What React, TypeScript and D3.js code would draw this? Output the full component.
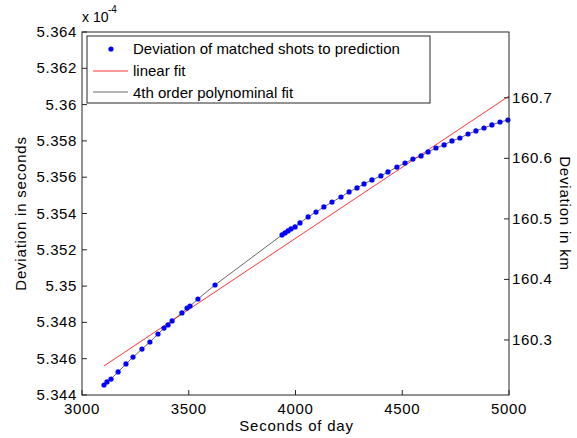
import React from 'react';
import * as d3 from 'd3';

// time of day (s) and deviation of matched shots (x 1e-4 s)
const seconds = [
  3103, 3117, 3136, 3169, 3206, 3239, 3281, 3318, 3356, 3384, 3403, 3422, 3468, 3492, 3506, 3543, 3623,
  3937, 3951, 3965, 3979, 3998, 4021, 4059, 4096, 4133, 4171, 4213, 4251, 4288, 4321, 4358, 4400,
  4433, 4475, 4513, 4550, 4588, 4621, 4658, 4696, 4733, 4770, 4808, 4845, 4883, 4920, 4958, 4995,
];
const deviation = [
  5.34455, 5.34472, 5.34488, 5.34527, 5.34571, 5.34609, 5.34653, 5.34692, 5.34736, 5.34769, 5.34786,
  5.34808, 5.34852, 5.34879, 5.3489, 5.34929, 5.35006,
  5.35282, 5.35293, 5.35304, 5.35315, 5.35326, 5.35348, 5.35381, 5.35408, 5.35436, 5.35463, 5.35491,
  5.35519, 5.35541, 5.35563, 5.35585, 5.35607, 5.35629, 5.35656, 5.35678, 5.357, 5.35717, 5.35739,
  5.35761, 5.35778, 5.358, 5.35816, 5.35838, 5.35855, 5.35871, 5.35888, 5.35904, 5.35915,
];
const linearFitSeconds = [3103, 5000];
const linearFitDeviation = [5.3456, 5.36047];

const xTicks = [3000, 3500, 4000, 4500, 5000];
const yTicks = [5.344, 5.346, 5.348, 5.35, 5.352, 5.354, 5.356, 5.358, 5.36, 5.362, 5.364];
const kmTicks = [160.3, 160.4, 160.5, 160.6, 160.7];
const legendLabels = ['Deviation of matched shots to prediction', 'linear fit', '4th order polynominal fit'];

const C_KM_S = 299792.458;
const W = 577;
const H = 438;
const left = 82;
const right = 509;
const top = 32;
const bottom = 395;
const font = 'Liberation Sans, Arial, sans-serif';

export default function App() {
  const x = d3.scaleLinear().domain([3000, 5000]).range([left, right]);
  const y = d3.scaleLinear().domain([5.344, 5.364]).range([bottom, top]);
  const yKm = d3.scaleLinear()
    .domain([5.344e-4 * C_KM_S, 5.364e-4 * C_KM_S])
    .range([bottom, top]);

  const pts = seconds.map((s, i) => [s, deviation[i]] as [number, number]);
  const line = d3.line<[number, number]>().x(d => x(d[0])).y(d => y(d[1]));
  const linPts = linearFitSeconds.map((s, i) => [s, linearFitDeviation[i]] as [number, number]);

  const tick = 5;
  const axisColor = '#262626';
  const ls = 0.6;

  return (
    <svg width={W} height={H} style={{ position: 'absolute', left: 0, top: 0, background: '#fff' }}
      fontFamily={font} fontSize={15}>
      <rect x={0} y={0} width={W} height={H} fill="#fff" />

      {/* data */}
      <path d={line(pts) || ''} fill="none" stroke="#000" strokeWidth={0.6} />
      <path d={line(linPts) || ''} fill="none" stroke="#ff0000" strokeWidth={0.8} />
      {pts.map((p, i) => (
        <circle key={i} cx={x(p[0])} cy={y(p[1])} r={2.6} fill="#0000ff" />
      ))}

      {/* frame */}
      <rect x={left} y={top} width={right - left} height={bottom - top} fill="none" stroke={axisColor} strokeWidth={1} />

      {/* x axis */}
      {xTicks.map(t => (
        <g key={t}>
          <line x1={x(t)} x2={x(t)} y1={bottom} y2={bottom - tick} stroke={axisColor} />
          <text x={x(t)} y={414} textAnchor="middle" fill="#000" letterSpacing={ls}>{t}</text>
        </g>
      ))}
      <text x={(left + right) / 2 + 1} y={431} textAnchor="middle" fill="#000" letterSpacing={0.8}>Seconds of day</text>

      {/* left y axis */}
      {yTicks.map(t => (
        <g key={t}>
          <line x1={left} x2={left + tick} y1={y(t)} y2={y(t)} stroke={axisColor} />
          <text x={77} y={y(t) + 5} textAnchor="end" fill="#000" letterSpacing={ls}>{String(+t.toFixed(3))}</text>
        </g>
      ))}
      <text x={82} y={22} fontSize={14} fill="#000">x 10</text>
      <text x={108} y={13} fontSize={10} fill="#000">-4</text>
      <text transform={`translate(26,${(top + bottom) / 2}) rotate(-90)`} textAnchor="middle" fill="#000" letterSpacing={0.8}>
        Deviation in seconds
      </text>

      {/* right y axis */}
      {kmTicks.map(t => (
        <g key={t}>
          <line x1={right} x2={right - tick} y1={yKm(t)} y2={yKm(t)} stroke={axisColor} />
          <text x={512} y={yKm(t) + 5} fill="#000" letterSpacing={ls}>{t.toFixed(1)}</text>
        </g>
      ))}
      <text transform={`translate(560,${(top + bottom) / 2}) rotate(90)`} textAnchor="middle" fill="#000" letterSpacing={0.8}>
        Deviation in km
      </text>

      {/* legend */}
      <rect x={87} y={36} width={343} height={67} fill="#fff" stroke={axisColor} strokeWidth={1} />
      <circle cx={111} cy={49} r={2.6} fill="#0000ff" />
      <line x1={93} x2={128} y1={71} y2={71} stroke="#ff0000" strokeWidth={0.8} />
      <line x1={93} x2={128} y1={92} y2={92} stroke="#000" strokeWidth={0.6} />
      {legendLabels.map((l, i) => (
        <text key={l} x={133} y={[54, 76, 98][i]} fill="#000">{l}</text>
      ))}
    </svg>
  );
}
